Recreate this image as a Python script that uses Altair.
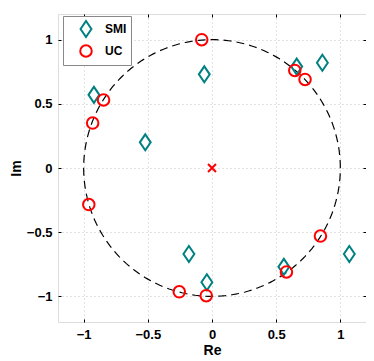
import altair as alt
import numpy as np
import pandas as pd

# SMI estimates (diamonds)
smi_re = [-0.92, -0.52, -0.06, 0.66, 0.86, -0.18, -0.04, 0.56, 1.07]
smi_im = [0.57, 0.20, 0.73, 0.79, 0.82, -0.67, -0.89, -0.77, -0.67]
# UC estimates (circles)
uc_re = [-0.08, -0.845, -0.93, 0.645, 0.725, -0.96, 0.845, 0.58, -0.255, -0.045]
uc_im = [1.0, 0.53, 0.35, 0.76, 0.69, -0.285, -0.53, -0.81, -0.965, -0.995]
# origin marker
zero_re = [0.0]
zero_im = [0.0]
tick_vals = [-1, -0.5, 0, 0.5, 1]

rows = [{"re": r, "im": i, "series": "SMI"} for r, i in zip(smi_re, smi_im)]
rows += [{"re": r, "im": i, "series": "UC"} for r, i in zip(uc_re, uc_im)]
pts = pd.DataFrame(rows)

theta = np.linspace(0, 2 * np.pi, 241)
circ = pd.DataFrame({"re": np.cos(theta), "im": np.sin(theta), "k": np.arange(len(theta))})
zero = pd.DataFrame({"re": zero_re, "im": zero_im})

FONT = "Liberation Sans"
xs = alt.Scale(domain=[-1.2, 1.2], nice=False, zero=False)
ys = alt.Scale(domain=[-1.2, 1.2], nice=False, zero=False)

common = dict(values=tick_vals, domain=False, tickSize=3, offset=-3, tickColor="black",
              gridColor="#c4c4c4", gridDash=[1, 3], gridWidth=1)

x_main = alt.Axis(title="Re", orient="bottom", format="~g", grid=True, labelPadding=6,
                  labelFont=FONT, labelFontSize=13, labelFontWeight="bold", labelColor="black",
                  titleFont=FONT, titleFontSize=14, titleFontWeight="bold", titleColor="black",
                  titlePadding=2, **common)
y_main = alt.Axis(title="Im", orient="left", format="~g", grid=True, labelPadding=6,
                  labelFont=FONT, labelFontSize=13, labelFontWeight="bold", labelColor="black",
                  titleFont=FONT, titleFontSize=14, titleFontWeight="bold", titleColor="black",
                  titlePadding=3, **common)
x_top = alt.Axis(title=None, orient="top", labels=False, grid=False, **common)
y_right = alt.Axis(title=None, orient="right", labels=False, grid=False, **common)

circle_layer = alt.Chart(circ).mark_line(color="black", strokeWidth=1.2, strokeDash=[8, 5]).encode(
    x=alt.X("re:Q", scale=xs, axis=x_main),
    y=alt.Y("im:Q", scale=ys, axis=y_main),
    order="k:Q",
)

diamond = "M0,-1L0.68,0L0,1L-0.68,0Z"
ring = "M0.72,0A0.72,0.72 0 1,1 -0.72,0A0.72,0.72 0 1,1 0.72,0Z"

legend = alt.Legend(title=None, orient="none", legendX=5, legendY=2, direction="vertical",
                    padding=4, strokeColor="#888888", fillColor="white",
                    symbolStrokeWidth=2, symbolOffset=10, labelOffset=10, symbolSize=256,
                    labelFont=FONT, labelFontSize=12, labelFontWeight="bold", labelColor="black",
                    rowPadding=0)

point_layer = alt.Chart(pts).mark_point(filled=False, strokeWidth=2, size=256, opacity=1).encode(
    x=alt.X("re:Q", scale=xs, axis=x_top),
    y=alt.Y("im:Q", scale=ys, axis=y_right),
    color=alt.Color("series:N", scale=alt.Scale(domain=["SMI", "UC"], range=["#008080", "#ff0000"]), legend=legend),
    shape=alt.Shape("series:N", scale=alt.Scale(domain=["SMI", "UC"], range=[diamond, ring]), legend=legend),
)

cross_layer = alt.Chart(zero).mark_point(shape="M-1,-1L1,1M-1,1L1,-1", size=64, color="#ff0000",
                                        strokeWidth=2, filled=False, opacity=1).encode(
    x=alt.X("re:Q", scale=xs, axis=None),
    y=alt.Y("im:Q", scale=ys, axis=None),
)

chart = alt.layer(circle_layer, point_layer, cross_layer).resolve_axis(
    x="independent", y="independent"
).properties(
    width=308, height=308,
    autosize=alt.AutoSizeParams(type="none"),
    padding={"left": 50, "top": 6, "right": 0, "bottom": 36},
).configure_view(stroke="black", strokeWidth=1).configure(background="white")

chart.save("out.html", embed_options={"renderer": "svg", "actions": False})
